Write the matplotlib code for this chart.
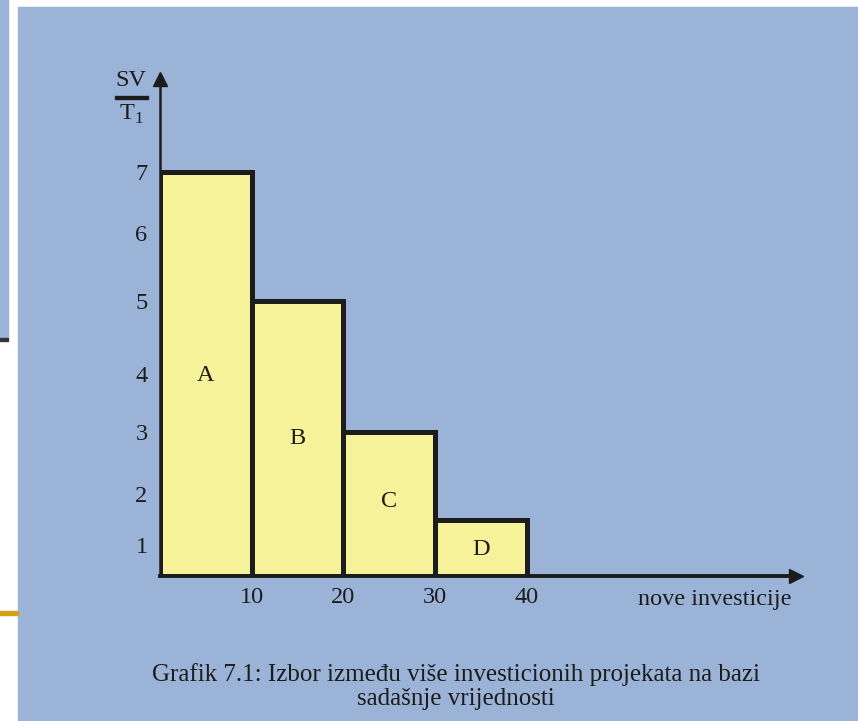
import numpy as np
import matplotlib.pyplot as plt
from matplotlib.patches import Rectangle
from matplotlib.scale import FuncScale

# Project data
projects = ["A", "B", "C", "D"]
invest_start = [0, 10, 20, 30]
invest_width = [10, 10, 10, 10]
sv_ratio = [7, 5, 3, 1.5]
label_y = [3.97, 2.9, 1.85, 0.87]

x_ticks = [10, 20, 30, 40]
y_ticks = [1, 2, 3, 4, 5, 6, 7]

# the hand drawn axis is not evenly spaced, map values to drawn heights
axis_vals = [0, 1, 2, 3, 4, 5, 6, 7, 8.8]
axis_pos = [0, 31, 82, 144, 202, 275, 343, 404, 506]

blue = "#9bb3d7"
yellow = "#f6f29a"
dark = "#1c1c1c"
fs = 17.5

plt.rcParams["font.family"] = ["Liberation Serif", "DejaVu Serif"]
plt.rcParams["mathtext.fontset"] = "custom"
plt.rcParams["mathtext.rm"] = "Liberation Serif"

W, H = 858, 721
fig = plt.figure(figsize=(W / 100, H / 100), dpi=100, facecolor="white")

def px_rect(x0, y0, x1, y1, color, z=-1):
    fig.patches.append(Rectangle((x0 / W, 1 - y1 / H), (x1 - x0) / W, (y1 - y0) / H,
                                 transform=fig.transFigure, color=color, zorder=z))

# background panel and slide leftovers
px_rect(18, 7, 858, 721, blue)
px_rect(0, 0, 8, 338, blue)
px_rect(0, 338, 8, 341, "#333333")
px_rect(0, 611, 18, 615, "#d4a017")

ax = fig.add_axes([160 / W, (H - 576) / H, 642 / W, (576 - 70) / H])
ax.set_facecolor("none")

fwd = lambda v: np.interp(v, axis_vals, axis_pos)
inv = lambda p: np.interp(p, axis_pos, axis_vals)
ax.set_yscale(FuncScale(ax.yaxis, (fwd, inv)))

ax.bar(invest_start, sv_ratio, width=invest_width, align="edge",
       color=yellow, edgecolor=dark, linewidth=3.6, zorder=2)
for name, x0, w, ly in zip(projects, invest_start, invest_width, label_y):
    ax.text(x0 + w / 2, ly, name, ha="center", va="center", fontsize=fs, color=dark, zorder=3)

ax.set_xlim(0, 70)
ax.set_ylim(0, 8.8)
for s in ax.spines.values():
    s.set_visible(False)

# axes with arrows
ax.plot([0, 69.3], [0, 0], color=dark, lw=2.8, clip_on=False, zorder=4)
ax.plot([69.3], [0], marker=">", ms=10, color=dark, clip_on=False, zorder=4)
ax.plot([0, 0], [0, 8.65], color=dark, lw=1.8, clip_on=False, zorder=4)
ax.plot([0], [8.65], marker="^", ms=10, color=dark, clip_on=False, zorder=4)

ax.set_xticks(x_ticks)
ax.set_xticklabels([str(t) for t in x_ticks])
ax.set_yticks(y_ticks)
ax.set_yticklabels([str(t) for t in y_ticks])
ax.yaxis.set_minor_locator(plt.NullLocator())
ax.tick_params(length=0, labelsize=fs, colors=dark)
ax.tick_params(axis="x", pad=8)
ax.tick_params(axis="y", pad=9)

# axis titles
fig.text(715 / W, 1 - 599 / H, "nove investicije", ha="center", va="center", fontsize=fs, color=dark)
fig.text(131 / W, 1 - 80 / H, "SV", ha="center", va="center", fontsize=fs, color=dark)
px_rect(115, 96, 148, 99, dark, z=1)
fig.text(131 / W, 1 - 114 / H, r"T$_\mathrm{1}$", ha="center", va="center", fontsize=fs, color=dark)

# caption
fig.text(456 / W, 1 - 675 / H, "Grafik 7.1: Izbor između više investicionih projekata na bazi",
         ha="center", va="center", fontsize=18, color=dark)
fig.text(456 / W, 1 - 699 / H, "sadašnje vrijednosti",
         ha="center", va="center", fontsize=18, color=dark)

fig.savefig("out.png", dpi=100, facecolor="white")
